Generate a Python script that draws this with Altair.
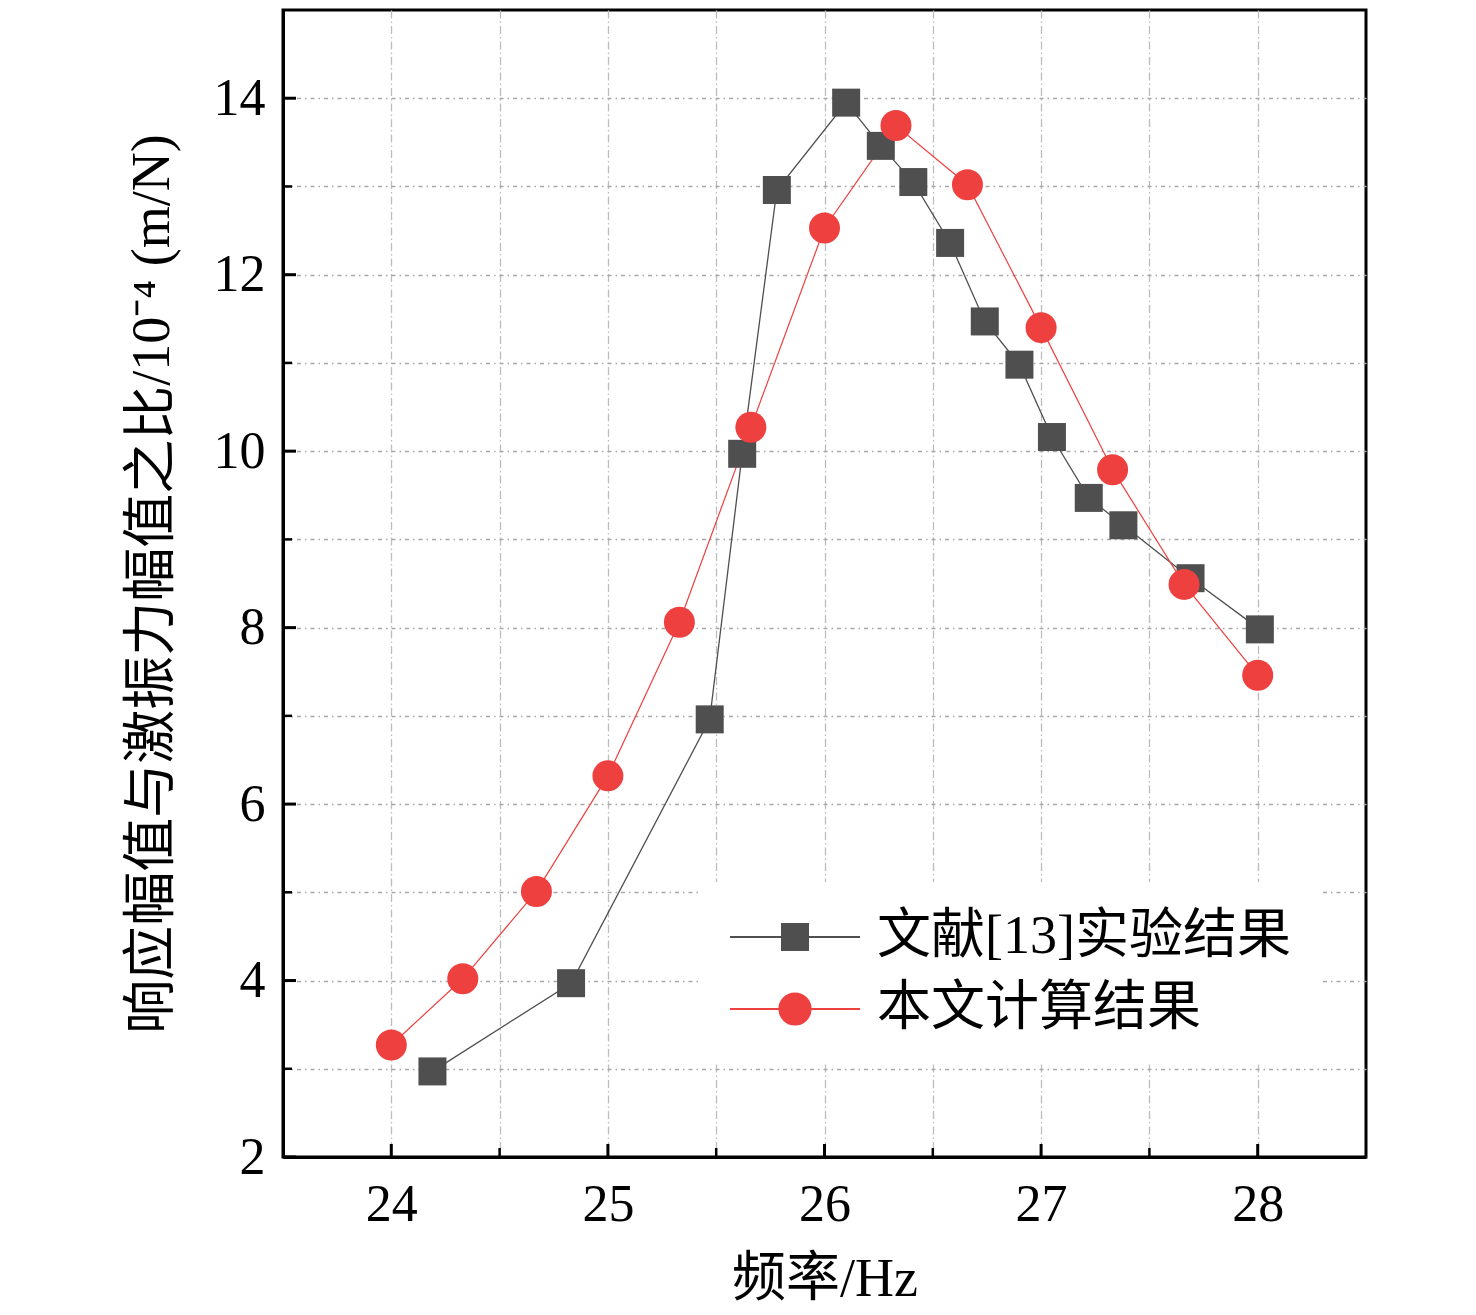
import altair as alt
import pandas as pd

# ---- data ----
series_names = ["文献[13]实验结果", "本文计算结果"]

exp_freq = [24.19, 24.83, 25.47, 25.62, 25.78, 26.10, 26.26, 26.41, 26.58, 26.74,
            26.90, 27.05, 27.22, 27.38, 27.69, 28.01]
exp_ratio = [2.97, 3.97, 6.96, 9.97, 12.96, 13.95, 13.46, 13.05, 12.36, 11.47,
             10.98, 10.16, 9.47, 9.16, 8.56, 7.98]

calc_freq = [24.00, 24.33, 24.67, 25.00, 25.33, 25.66, 26.00, 26.33, 26.66, 27.00,
             27.33, 27.66, 28.00]
calc_ratio = [3.27, 4.02, 5.01, 6.32, 8.06, 10.27, 12.53, 13.69, 13.02, 11.40,
              9.79, 8.49, 7.46]

x_grid_values = [24, 24.5, 25, 25.5, 26, 26.5, 27, 27.5, 28]
x_major_ticks = [24, 25, 26, 27, 28]
x_minor_ticks = [24.5, 25.5, 26.5, 27.5]
y_grid_values = [2, 3, 4, 5, 6, 7, 8, 9, 10, 11, 12, 13, 14]
y_major_ticks = [2, 4, 6, 8, 10, 12, 14]
y_minor_ticks = [3, 5, 7, 9, 11, 13]

x_title = "频率/Hz"
y_title = "响应幅值与激振力幅值之比/10⁻⁴ (m/N)"

# ---- styling ----
W, H = 1083, 1147
FONT = "Liberation Serif, Noto Sans CJK SC"
GREY = "#4f4f4f"
RED = "#ef4040"

exp_df = pd.DataFrame({"freq": exp_freq, "ratio": exp_ratio, "series": series_names[0]})
calc_df = pd.DataFrame({"freq": calc_freq, "ratio": calc_ratio, "series": series_names[1]})
all_df = pd.concat([exp_df, calc_df], ignore_index=True)

xscale = alt.Scale(domain=[23.5, 28.5], nice=False, zero=False)
yscale = alt.Scale(domain=[2, 15], nice=False, zero=False)

x_axis = alt.Axis(
    values=x_grid_values,
    labelExpr="datum.value % 1 == 0 ? format(datum.value, 'd') : ''",
    title=x_title,
    ticks=False,
    labelOverlap=False,
    labelFlush=False,
    labelFont=FONT, labelFontSize=52, labelColor="black", labelPadding=22,
    titleFont=FONT, titleFontSize=54, titleFontWeight="normal", titleColor="black",
    titlePadding=22,
    domainColor="black", domainWidth=3,
    grid=True, gridColor="#bdbdbd", gridDash=[8, 3, 1.5, 3], gridWidth=1.3,
)
y_axis = alt.Axis(
    values=y_grid_values,
    labelExpr="datum.value % 2 == 0 ? format(datum.value, 'd') : ''",
    title=y_title,
    ticks=False,
    labelOverlap=False,
    labelFlush=False,
    labelFont=FONT, labelFontSize=52, labelColor="black", labelPadding=18,
    titleFont=FONT, titleFontSize=54, titleFontWeight="normal", titleColor="black",
    titlePadding=34,
    domainColor="black", domainWidth=3,
    grid=True, gridColor="#a8a8a8", gridDash=[4, 4, 1.5, 4], gridWidth=1.3,
)


def X():
    return alt.X("freq:Q", scale=xscale, axis=x_axis)


def Y():
    return alt.Y("ratio:Q", scale=yscale, axis=y_axis)


# inward ticks
xt_major = alt.Chart(pd.DataFrame({"freq": x_major_ticks})).mark_rule(
    color="black", strokeWidth=3).encode(x=X(), y=alt.value(H), y2=alt.value(H - 13))
xt_minor = alt.Chart(pd.DataFrame({"freq": x_minor_ticks})).mark_rule(
    color="black", strokeWidth=2.5).encode(x=X(), y=alt.value(H), y2=alt.value(H - 9))
yt_major = alt.Chart(pd.DataFrame({"ratio": y_major_ticks})).mark_rule(
    color="black", strokeWidth=3).encode(y=Y(), x=alt.value(0), x2=alt.value(13))
yt_minor = alt.Chart(pd.DataFrame({"ratio": y_minor_ticks})).mark_rule(
    color="black", strokeWidth=2.5).encode(y=Y(), x=alt.value(0), x2=alt.value(9))

exp_line = alt.Chart(exp_df).mark_line(color=GREY, strokeWidth=1.3).encode(x=X(), y=Y())
calc_line = alt.Chart(calc_df).mark_line(color=RED, strokeWidth=1.2).encode(x=X(), y=Y())
exp_pts = alt.Chart(exp_df).mark_point(
    shape="square", filled=True, size=784, color=GREY, opacity=1, strokeWidth=0
).encode(x=X(), y=Y())
calc_pts = alt.Chart(calc_df).mark_point(
    shape="circle", filled=True, size=961, color=RED, opacity=1, strokeWidth=0
).encode(x=X(), y=Y())

# legend: symbols = line stub + marker
sq_path = "M-1,0H1M-0.2,-0.2H0.2V0.2H-0.2Z"
ci_path = "M-1,0H1M0.24,0A0.24,0.24,0,1,1,-0.24,0A0.24,0.24,0,1,1,0.24,0Z"

legend = alt.Legend(
    title=None, orient="none", legendX=418, legendY=872,
    labelFont=FONT, labelFontSize=54, labelColor="black", labelLimit=0,
    labelOffset=16, rowPadding=18, padding=28, fillColor="white",
    clipHeight=54,
    symbolSize=16900, symbolStrokeWidth=2,
)
leg_layer = alt.Chart(all_df).transform_filter("false").mark_point(
    filled=True, opacity=1, strokeWidth=2, size=16900
).encode(
    x=X(), y=Y(),
    color=alt.Color("series:N", scale=alt.Scale(domain=series_names, range=[GREY, RED]), legend=legend),
    stroke=alt.Stroke("series:N", scale=alt.Scale(domain=series_names, range=[GREY, RED]), legend=legend),
    shape=alt.Shape("series:N", scale=alt.Scale(domain=series_names, range=[sq_path, ci_path]), legend=legend),
)

chart = alt.layer(
    exp_line, calc_line, exp_pts, calc_pts, leg_layer,
    xt_major, xt_minor, yt_major, yt_minor,
).properties(
    width=W, height=H,
    autosize=alt.AutoSizeParams(type="none"),
    padding={"left": 275, "top": 2, "right": 100, "bottom": 150},
).configure_view(stroke="black", strokeWidth=3)

chart.save("out.html", embed_options={"renderer": "svg", "actions": False})
